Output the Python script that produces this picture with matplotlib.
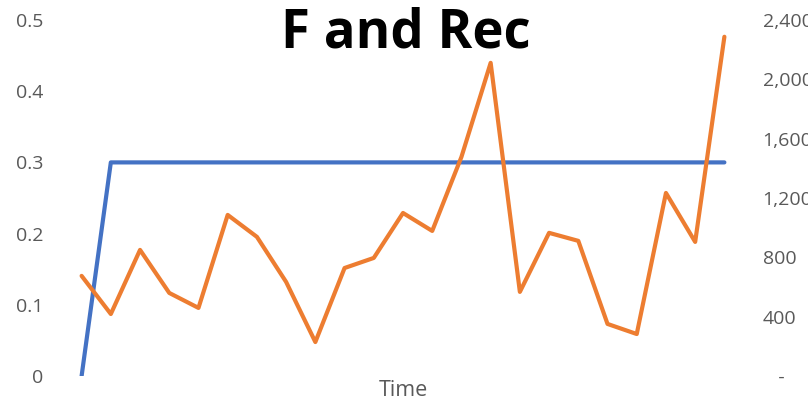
import matplotlib
matplotlib.use("Agg")
import matplotlib.pyplot as plt
from matplotlib.ticker import FuncFormatter

plt.rcParams["font.family"] = ["Open Sans", "DejaVu Sans"]

# ── Data ──────────────────────────────────────────────────────────────────
time_steps = list(range(23))
f_values = [0.0] + [0.3] * 22
rec_values = [675, 418, 850, 560, 459, 1086, 938, 634, 229, 728, 796, 1099,
              978, 1477, 2111, 567, 965, 911, 351, 283, 1234, 904, 2287]
left_ticks = [0, 0.1, 0.2, 0.3, 0.4, 0.5]
right_ticks = [0, 400, 800, 1200, 1600, 2000, 2400]

BLUE = "#4472C4"
ORANGE = "#ED7D31"
GREY = "#595959"

fig = plt.figure(figsize=(8.08, 4.05), dpi=100)
ax = fig.add_axes([67 / 808, 29 / 405, 672 / 808, 356 / 405])
ax2 = ax.twinx()

ax.plot(time_steps, f_values, color=BLUE, linewidth=3, solid_capstyle="round",
        solid_joinstyle="round")
ax2.plot(time_steps, rec_values, color=ORANGE, linewidth=3, solid_capstyle="round",
         solid_joinstyle="round")

ax.set_xlim(-0.5, 22.5)
ax.set_ylim(0, 0.5)
ax2.set_ylim(0, 2400)
ax.set_xticks([])
ax.set_yticks(left_ticks)
ax2.set_yticks(right_ticks)

ax.yaxis.set_major_formatter(FuncFormatter(lambda v, p: "0" if v == 0 else f"{v:.1f}"))
ax2.yaxis.set_major_formatter(FuncFormatter(lambda v, p: "   -" if v == 0 else f"{int(v):,}"))

for a in (ax, ax2):
    for s in a.spines.values():
        s.set_visible(False)
    a.tick_params(axis="y", length=0, labelsize=14, labelcolor=GREY, pad=17)

ax.set_xlabel("Time", fontsize=15.5, color=GREY, labelpad=3)

fig.text(406 / 808, 1 - 47 / 405, "F and Rec", ha="center", va="baseline",
         fontsize=38, fontweight="bold", color="black")

fig.savefig("out.png", dpi=100)
